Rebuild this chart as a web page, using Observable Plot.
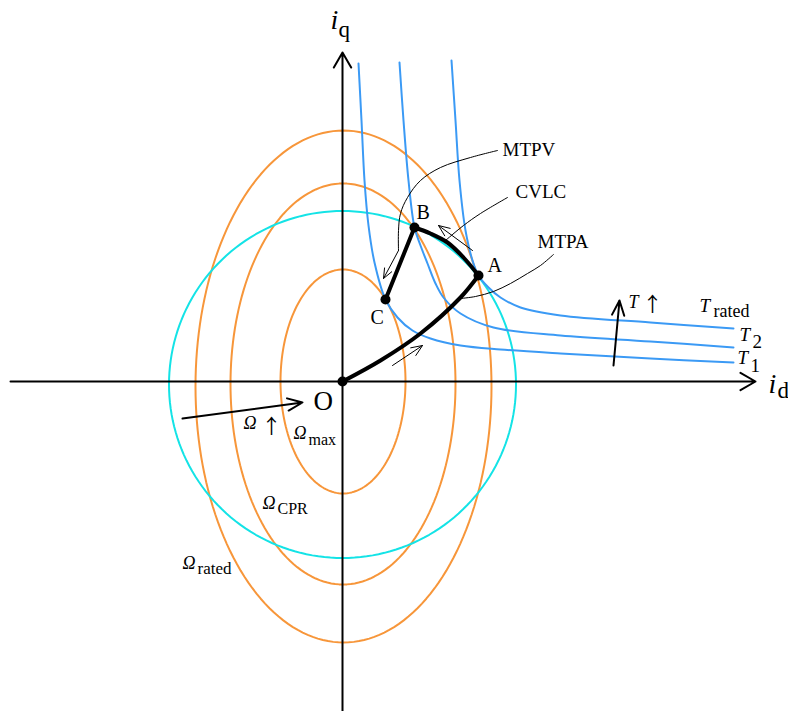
<!DOCTYPE html>
<html>
<head>
<meta charset="utf-8">
<script src="https://cdn.jsdelivr.net/npm/d3@7"></script>
<script src="https://cdn.jsdelivr.net/npm/@observablehq/plot@0.6"></script>
<style>
  html, body { margin: 0; padding: 0; background: #fff; }
  #chart svg { display: block; }
</style>
</head>
<body>
<div id="chart"></div>
<script>
// ---- data (current-plane units: id horizontal, iq vertical) ----
const torqueT1 = [[16,318],[19,261],[22,201],[26,156],[32,119],[43,82],[55,64],[70,51],[88,43],[118,36],[158,32],[218,28],[308,23],[391,19]];
const torqueT2 = [[57,319],[61,261],[66,201],[72,154],[78,136],[85,118],[93,98],[101,84],[118,68],[151,54],[218,46],[308,40],[391,34]];
const torqueRated = [[109,321],[113,261],[117,201],[123,151],[130,121],[136,106],[146,94],[158,84],[178,74],[218,66],[308,59],[391,53]];

// voltage-limit ellipses: centre, semi-axes
const ellipseNames = ["Ωmax", "ΩCPR", "Ωrated"];
const ellipseCx = [0.5, 0.5, 1];
const ellipseCy = [0, -2.5, -5];
const ellipseA = [62.5, 112.5, 148];
const ellipseB = [112, 200.5, 256];

// current-limit circle
const circleCx = 0, circleCy = -3, circleR = 173.5;

// operating trajectory
const mtpaPath = [[0,0],[38,21],[78,48],[118,84],[136,106]];
const cvlcPath = [[136,106],[121,124],[105,139],[88,148],[72,154]];
const mtpvPath = [[72,154],[43,82]];
const keyPoints = [{n:"O",x:0,y:0},{n:"A",x:136,y:106},{n:"B",x:72,y:154},{n:"C",x:43,y:82}];

// axes
const axisLines = [{x1:-332,y1:0,x2:413,y2:0},{x1:0,y1:-330,x2:0,y2:329}];

// thin direction arrows
const thinArrows = [
  {x1:50,y1:16,x2:80,y2:36},
  {x1:130,y1:131,x2:96,y2:156},
  {x1:56,y1:131,x2:41,y2:103}
];
const boldArrows = [
  {x1:271,y1:16,x2:277,y2:81},
  {x1:-160,y1:-37,x2:-40,y2:-21}
];

// leader curves
const leaderMTPV = [[155,231],[128,224],[98,214],[78,201],[65,184],[58,168],[56,151],[56,131]];
const leaderCVLC = [[165,184],[138,168],[121,156],[103,141]];
const leaderMTPA = [[211,127],[198,116],[185,108],[168,98],[151,90],[133,85],[118,83]];

// labels (left, baseline)
const uprightLabels = [
  {t:"O", x:-29, y:-28, s:27},
  {t:"A", x:145, y:110, s:20},
  {t:"B", x:74, y:163, s:20},
  {t:"C", x:28, y:58, s:20},
  {t:"MTPV", x:160, y:226, s:19},
  {t:"CVLC", x:173, y:184, s:19},
  {t:"MTPA", x:195, y:134, s:19}
];
const arrowGlyphs = [
  {t:"\u2191", x:300, y:70, s:20},
  {t:"\u2191", x:-81, y:-52, s:20}
];
const italicLabels = [
  {t:"i", x:-12, y:353, s:28},
  {t:"i", x:426, y:-11, s:28},
  {t:"T", x:286, y:74, s:18},
  {t:"T", x:357, y:70, s:19},
  {t:"T", x:397, y:41, s:19},
  {t:"T", x:395, y:18, s:19},
  {t:"Ω", x:-99, y:-47, s:18},
  {t:"Ω", x:-49, y:-57, s:18},
  {t:"Ω", x:-80, y:-127, s:18},
  {t:"Ω", x:-160, y:-187, s:18}
];
const subLabels = [
  {t:"q", x:-4, y:345, s:23},
  {t:"d", x:435, y:-16, s:23},
  {t:"rated", x:371, y:65, s:18},
  {t:"2", x:410, y:34, s:19},
  {t:"1", x:408, y:10, s:19},
  {t:"max", x:-34, y:-63, s:16},
  {t:"CPR", x:-65, y:-132, s:16},
  {t:"rated", x:-145, y:-192, s:17}
];

// ---- geometry from the read parameters ----
const angles = d3.range(0, 361, 2).map(d => d * Math.PI / 180);
const ellipses = ellipseNames.map((name, i) =>
  angles.map(t => ({name, x: ellipseCx[i] + ellipseA[i] * Math.cos(t), y: ellipseCy[i] + ellipseB[i] * Math.sin(t)})));
const circle = angles.map(t => ({x: circleCx + circleR * Math.cos(t), y: circleCy + circleR * Math.sin(t)}));

const ORANGE = "#f7963a", BLUE = "#3b9af5", CYAN = "#14e3e6";
const SERIF = "'Liberation Serif', 'Times New Roman', serif";
const P = a => a.map(([x, y]) => ({x, y}));

const plot = Plot.plot({
  width: 788,
  height: 711,
  margin: 0,
  x: {domain: [-342, 446], axis: null},
  y: {domain: [-330, 381], axis: null},
  style: {background: "#fff", fontFamily: SERIF},
  marks: [
    ...ellipses.map(e => Plot.line(e, {x: "x", y: "y", stroke: ORANGE, strokeWidth: 2})),
    Plot.line(circle, {x: "x", y: "y", stroke: CYAN, strokeWidth: 2}),
    Plot.line(P(torqueT1), {x: "x", y: "y", stroke: BLUE, strokeWidth: 2, curve: "catmull-rom"}),
    Plot.line(P(torqueT2), {x: "x", y: "y", stroke: BLUE, strokeWidth: 2, curve: "catmull-rom"}),
    Plot.line(P(torqueRated), {x: "x", y: "y", stroke: BLUE, strokeWidth: 2, curve: "catmull-rom"}),
    Plot.arrow(axisLines, {x1: "x1", y1: "y1", x2: "x2", y2: "y2", stroke: "#000", strokeWidth: 2, headLength: 13, headAngle: 60}),
    Plot.line(P(mtpaPath), {x: "x", y: "y", stroke: "#000", strokeWidth: 4, curve: "catmull-rom"}),
    Plot.line(P(cvlcPath), {x: "x", y: "y", stroke: "#000", strokeWidth: 4, curve: "catmull-rom"}),
    Plot.line(P(mtpvPath), {x: "x", y: "y", stroke: "#000", strokeWidth: 4}),
    Plot.line(P(leaderMTPV), {x: "x", y: "y", stroke: "#000", strokeWidth: 1, curve: "catmull-rom"}),
    Plot.line(P(leaderCVLC), {x: "x", y: "y", stroke: "#000", strokeWidth: 1, curve: "catmull-rom"}),
    Plot.line(P(leaderMTPA), {x: "x", y: "y", stroke: "#000", strokeWidth: 1, curve: "catmull-rom"}),
    Plot.arrow(thinArrows, {x1: "x1", y1: "y1", x2: "x2", y2: "y2", stroke: "#000", strokeWidth: 1, headLength: 18, headAngle: 45}),
    Plot.arrow(boldArrows, {x1: "x1", y1: "y1", x2: "x2", y2: "y2", stroke: "#000", strokeWidth: 2, headLength: 12, headAngle: 45}),
    Plot.dot(keyPoints, {x: "x", y: "y", r: 5, fill: "#000"}),
    Plot.text(uprightLabels, {x: "x", y: "y", text: "t", fontSize: "s", textAnchor: "start", lineAnchor: "bottom", fill: "#000", fontFamily: SERIF}),
    Plot.text(arrowGlyphs, {x: "x", y: "y", text: "t", fontSize: "s", textAnchor: "start", lineAnchor: "bottom", fill: "#000", fontFamily: "'Noto Sans CJK JP', 'DejaVu Serif'", fontWeight: "normal"}),
    Plot.text(italicLabels, {x: "x", y: "y", text: "t", fontSize: "s", textAnchor: "start", lineAnchor: "bottom", fill: "#000", fontStyle: "italic", fontFamily: SERIF}),
    Plot.text(subLabels, {x: "x", y: "y", text: "t", fontSize: "s", textAnchor: "start", lineAnchor: "bottom", fill: "#000", fontFamily: SERIF})
  ]
});
document.getElementById("chart").appendChild(plot);
</script>
</body>
</html>
